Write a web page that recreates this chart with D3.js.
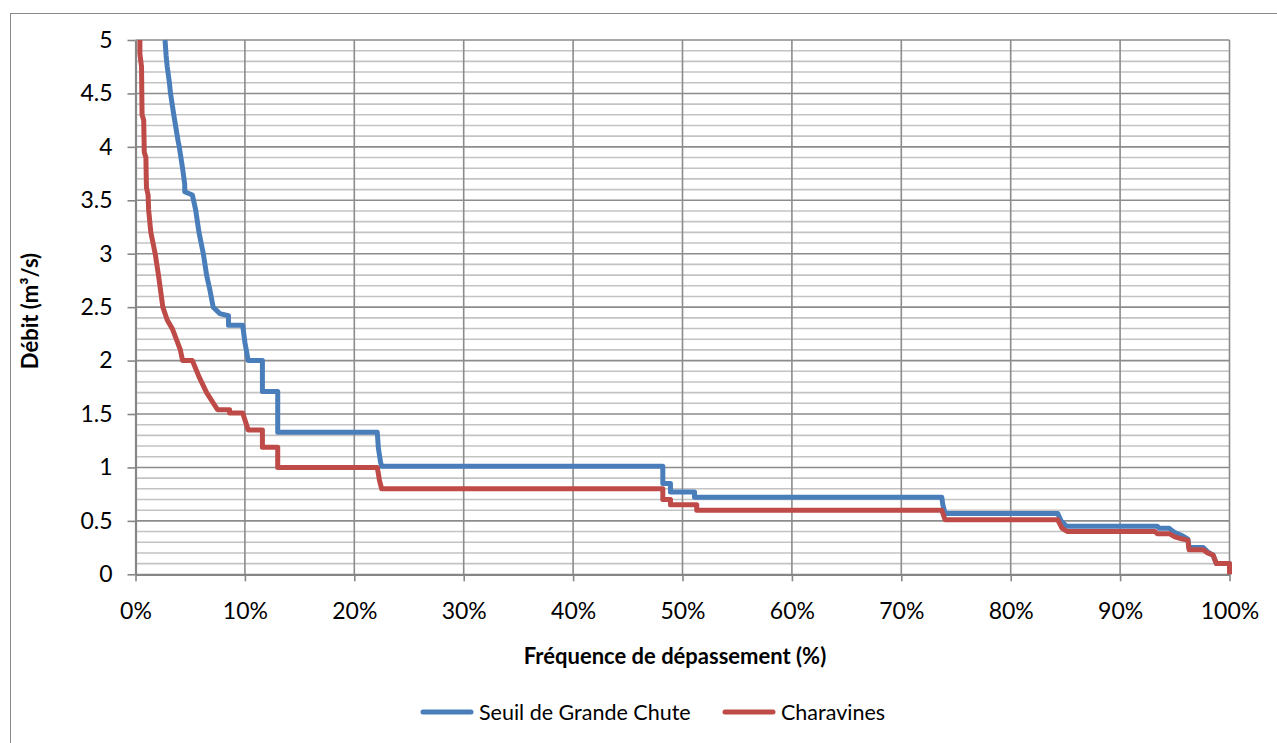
<!DOCTYPE html>
<html>
<head>
<meta charset="utf-8">
<script src="https://cdn.jsdelivr.net/npm/d3@7"></script>
<style>
  html, body { margin: 0; padding: 0; background: #fff; }
  svg { display: block; }
  text { font-family: Lato, "Open Sans", sans-serif; fill: #000; }
</style>
</head>
<body>
<svg id="chart" width="1277" height="743"></svg>
<script>
// Flow duration curves: exceedance frequency (%) vs discharge (m³/s)
const seriesNames = ["Seuil de Grande Chute", "Charavines"];

const seuilFreq = [2.7, 2.8, 2.9, 3.1, 3.2, 3.5, 3.9, 4.0, 4.3, 4.5, 4.5, 5.2, 5.5, 5.8, 6.2, 6.5, 6.8, 7.1, 7.7, 8.5, 8.5, 9.8, 10.0, 10.3, 11.6, 11.6, 13.0, 13.0, 22.1, 22.2, 22.4, 22.5, 48.2, 48.2, 48.9, 48.9, 51.1, 51.1, 73.7, 73.8, 74.0, 84.3, 84.6, 85.1, 93.4, 93.6, 94.5, 95.0, 95.7, 96.2, 96.3, 97.6, 98.0, 98.5, 98.8, 100, 100];
const seuilFlow = [5.0, 4.85, 4.75, 4.6, 4.5, 4.3, 4.05, 4.0, 3.8, 3.65, 3.58, 3.55, 3.41, 3.2, 3.0, 2.8, 2.66, 2.5, 2.44, 2.42, 2.33, 2.33, 2.17, 2.0, 2.0, 1.71, 1.71, 1.33, 1.33, 1.18, 1.05, 1.01, 1.01, 0.85, 0.85, 0.77, 0.77, 0.72, 0.72, 0.65, 0.57, 0.57, 0.5, 0.45, 0.45, 0.43, 0.43, 0.39, 0.36, 0.33, 0.25, 0.25, 0.21, 0.18, 0.1, 0.1, 0];

const charavinesFreq = [0.4, 0.4, 0.55, 0.6, 0.75, 0.8, 0.95, 1.0, 1.15, 1.2, 1.4, 1.8, 2.1, 2.5, 2.9, 3.4, 4.1, 4.3, 5.2, 5.8, 6.5, 7.5, 8.6, 8.6, 9.8, 10.3, 11.6, 11.6, 13.0, 13.0, 22.1, 22.3, 22.5, 48.2, 48.2, 48.9, 48.9, 51.3, 51.3, 73.7, 74.0, 84.3, 84.7, 85.2, 93.2, 93.4, 94.5, 95.0, 95.7, 96.2, 96.3, 97.6, 98.0, 98.5, 98.8, 100, 100];
const charavinesFlow = [5.0, 4.87, 4.75, 4.3, 4.25, 3.95, 3.9, 3.62, 3.55, 3.41, 3.2, 3.0, 2.8, 2.5, 2.38, 2.29, 2.1, 2.0, 2.0, 1.85, 1.7, 1.54, 1.54, 1.51, 1.51, 1.35, 1.35, 1.19, 1.19, 1.0, 1.0, 0.88, 0.8, 0.8, 0.7, 0.7, 0.65, 0.65, 0.6, 0.6, 0.51, 0.51, 0.43, 0.4, 0.4, 0.38, 0.38, 0.35, 0.33, 0.32, 0.23, 0.23, 0.2, 0.18, 0.1, 0.1, 0];

const xTickValues = [0, 10, 20, 30, 40, 50, 60, 70, 80, 90, 100];
const yTickValues = [0, 0.5, 1, 1.5, 2, 2.5, 3, 3.5, 4, 4.5, 5];
const yMinorValues = d3.range(0, 51).map(d => d / 10);

const colors = ["#4a7ebb", "#be4b48"];

const svg = d3.select("#chart");

// outer chart frame
svg.append("rect")
  .attr("x", 10.5).attr("y", 13.5)
  .attr("width", 1300).attr("height", 800)
  .attr("fill", "none").attr("stroke", "#8a8a8a").attr("stroke-width", 1);

const x = d3.scaleLinear().domain([0, 100]).range([135.5, 1229.5]);
const y = d3.scaleLinear().domain([0, 5]).range([574.3, 40]);

// minor horizontal grid
svg.append("g").selectAll("line")
  .data(yMinorValues.filter(v => Math.abs(v * 2 - Math.round(v * 2)) > 1e-6))
  .join("line")
  .attr("x1", x(0)).attr("x2", x(100))
  .attr("y1", d => y(d)).attr("y2", d => y(d))
  .attr("stroke", "#c3c3c3").attr("stroke-width", 1.6);

// major horizontal grid
svg.append("g").selectAll("line")
  .data(yTickValues.filter(v => v > 0))
  .join("line")
  .attr("x1", x(0)).attr("x2", x(100))
  .attr("y1", d => y(d)).attr("y2", d => y(d))
  .attr("stroke", "#8c8c8c").attr("stroke-width", 1.6);

// vertical grid
svg.append("g").selectAll("line")
  .data(xTickValues.filter(v => v > 0))
  .join("line")
  .attr("x1", d => x(d)).attr("x2", d => x(d))
  .attr("y1", y(0)).attr("y2", y(5))
  .attr("stroke", "#8c8c8c").attr("stroke-width", 1.6);

// axes
const xAxis = d3.axisBottom(x)
  .tickValues(xTickValues)
  .tickFormat(d => d + "%")
  .tickSizeInner(7).tickSizeOuter(0).tickPadding(21);
const gx = svg.append("g").attr("transform", `translate(0,${y(0)})`).call(xAxis);

const yAxis = d3.axisLeft(y)
  .tickValues(yTickValues)
  .tickFormat(d => String(d))
  .tickSizeInner(8).tickSizeOuter(0).tickPadding(15);
const gy = svg.append("g").attr("transform", `translate(${x(0)},0)`).call(yAxis);

[gx, gy].forEach(g => {
  g.attr("font-size", 23).attr("font-family", "Lato, sans-serif");
  g.select(".domain").attr("stroke", "#868686").attr("stroke-width", 2.2);
  g.selectAll(".tick line").attr("stroke", "#868686").attr("stroke-width", 1.6);
  g.selectAll(".tick text").attr("fill", "#000");
});

// series
const line = d3.line().x(d => x(d[0])).y(d => y(d[1]));
const series = [
  d3.zip(seuilFreq, seuilFlow),
  d3.zip(charavinesFreq, charavinesFlow)
];
series.forEach((pts, i) => {
  svg.append("path")
    .datum(pts)
    .attr("d", line)
    .attr("fill", "none")
    .attr("stroke", colors[i])
    .attr("stroke-width", 5)
    .attr("stroke-linejoin", "round");
});

// axis titles
svg.append("text")
  .attr("x", 675).attr("y", 664)
  .attr("text-anchor", "middle")
  .attr("font-size", 22).attr("font-weight", "bold")
  .text("Fréquence de dépassement (%)");

svg.append("text")
  .attr("transform", "translate(38,311) rotate(-90)")
  .attr("text-anchor", "middle")
  .attr("font-size", 22).attr("font-weight", "bold")
  .text("Débit (m³/s)");

// legend
const legendItems = [
  { name: seriesNames[0], color: colors[0], x: 423 },
  { name: seriesNames[1], color: colors[1], x: 725 }
];
const lg = svg.append("g");
legendItems.forEach(it => {
  lg.append("line")
    .attr("x1", it.x).attr("x2", it.x + 48)
    .attr("y1", 712).attr("y2", 712)
    .attr("stroke", it.color).attr("stroke-width", 5)
    .attr("stroke-linecap", "round");
  lg.append("text")
    .attr("x", it.x + 56).attr("y", 720)
    .attr("font-size", 21.5)
    .text(it.name);
});
</script>
</body>
</html>
